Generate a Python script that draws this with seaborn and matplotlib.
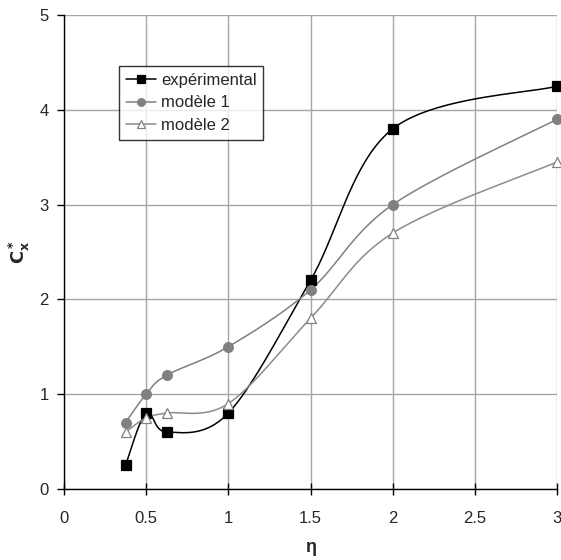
import numpy as np
import pandas as pd
import matplotlib
matplotlib.use("Agg")
import matplotlib.pyplot as plt
import seaborn as sns
from matplotlib.lines import Line2D

# values
eta = [0.375, 0.5, 0.625, 1.0, 1.5, 2.0, 3.0]
cx_exp = [0.25, 0.8, 0.6, 0.8, 2.2, 3.8, 4.25]
cx_mod1 = [0.7, 1.0, 1.2, 1.5, 2.1, 3.0, 3.9]
cx_mod2 = [0.6, 0.75, 0.8, 0.9, 1.8, 2.7, 3.45]
series_names = ["expérimental", "modèle 1", "modèle 2"]


# Excel-like smoothed line (bezier through points, tangent = (P[i+1]-P[i-1])/6)
# done in screen-ish units so the x/y scales don't distort the shape
def smooth_curve(x, y, sx=493 / 3.0, sy=474 / 5.0, n=40):
    P = np.column_stack([np.asarray(x) * sx, np.asarray(y) * sy])
    pts = []
    for i in range(len(P) - 1):
        p0 = P[i - 1] if i > 0 else P[i]
        p1, p2 = P[i], P[i + 1]
        p3 = P[i + 2] if i + 2 < len(P) else P[i + 1]
        b1 = p1 + (p2 - p0) / 6.0
        b2 = p2 - (p3 - p1) / 6.0
        t = np.linspace(0, 1, n)[:, None]
        seg = ((1 - t) ** 3) * p1 + 3 * ((1 - t) ** 2) * t * b1 + 3 * (1 - t) * t ** 2 * b2 + t ** 3 * p2
        pts.append(seg if i == 0 else seg[1:])
    pts = np.vstack(pts)
    return pts[:, 0] / sx, pts[:, 1] / sy


sns.set_style("white")
plt.rcParams['font.family'] = ['Liberation Sans', 'DejaVu Sans']

fig = plt.figure(figsize=(5.61, 5.60), dpi=100)
ax = fig.add_axes([0.114, 0.127, 0.879, 0.846])

styles = [
    dict(color="black", marker="s", mfc="black", mec="black", ms=7.5),
    dict(color="#808080", marker="o", mfc="#808080", mec="#808080", ms=7),
    dict(color="#8c8c8c", marker="^", mfc="white", mec="#808080", ms=7.5),
]

handles = []
for yv, name, st in zip([cx_exp, cx_mod1, cx_mod2], series_names, styles):
    sxv, syv = smooth_curve(eta, yv)
    curve = pd.DataFrame({"x": sxv, "y": syv})
    sns.lineplot(data=curve, x="x", y="y", sort=False, estimator=None,
                 color=st["color"], lw=1.1, ax=ax, zorder=3)
    pts = pd.DataFrame({"x": eta, "y": yv})
    ax.plot(pts["x"], pts["y"], ls="none", marker=st["marker"], ms=st["ms"],
            mfc=st["mfc"], mec=st["mec"], mew=0.9, zorder=4, clip_on=False)
    handles.append(Line2D([], [], color=st["color"], lw=1.1, marker=st["marker"],
                          ms=st["ms"] - 1.5, mfc=st["mfc"], mec=st["mec"], mew=0.9))

ax.set_xlim(0, 3)
ax.set_ylim(0, 5)
ax.set_xticks(np.arange(0, 3.01, 0.5))
ax.set_xticklabels(["0", "0.5", "1", "1.5", "2", "2.5", "3"])
ax.set_yticks(range(6))
ax.grid(True, color="#a6a6a6", lw=1.0)
ax.set_axisbelow(True)

for s in ["top", "right"]:
    ax.spines[s].set_visible(False)
for s in ["left", "bottom"]:
    ax.spines[s].set_color("black")
    ax.spines[s].set_linewidth(1.0)

ax.tick_params(axis="y", direction="out", length=5, width=1, color="black",
               labelsize=12, pad=6, left=True)
ax.tick_params(axis="x", direction="inout", length=8, width=1, color="black",
               labelsize=12, pad=12, bottom=True)

ax.set_xlabel("η", fontsize=13, fontweight="bold", labelpad=9)
ax.set_ylabel(r"$\mathbf{C_x^*}$", fontsize=13, labelpad=5)

leg = ax.legend(handles, series_names, loc="upper left", bbox_to_anchor=(0.112, 0.892),
                fontsize=12, frameon=True, fancybox=False, handlelength=1.8,
                handletextpad=0.3, borderpad=0.4, labelspacing=0.45, borderaxespad=0)
leg.get_frame().set_edgecolor("black")
leg.get_frame().set_linewidth(1.0)

fig.savefig("out.png", dpi=100)
